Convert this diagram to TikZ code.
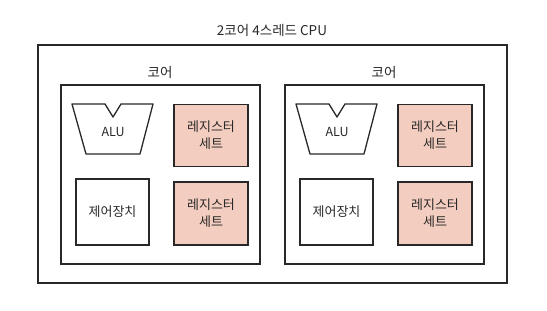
\documentclass[tikz,border=0pt]{standalone}
\usepackage{fontspec}
\setmainfont{Noto Sans CJK KR}
\usetikzlibrary{
    positioning,
    calc
}
\definecolor{InkGray}{RGB}{40,40,40}
\definecolor{RegPeach}{RGB}{243,205,191}

\begin{document}
\begin{tikzpicture}[
    x=1pt, y=-1pt,
    box/.style={draw=InkGray, line width=1.3pt, inner sep=0pt},
    regbox/.style={box, fill=RegPeach, minimum width=74pt, minimum height=62pt,
        align=center, font=\fontsize{13}{17}\selectfont, text=InkGray},
    caption/.style={font=\fontsize{13.5}{16}\selectfont, text=InkGray}
]

\useasboundingbox (0,0) rectangle (547,311);

% CPU
\node[box, minimum width=469pt, minimum height=238pt] (cpu) at (272.5,164) {};
\node[caption] (cpuname) at (272,30) {2코어 4스레드 CPU};

\foreach \dx/\nm in {0/L, 224/R} {
    % core
    \node[box, minimum width=199pt, minimum height=179pt] (core\nm) at (160.5+\dx,174.5) {};
    \node[caption] (corename\nm) at (160+\dx,72) {코어};

    % ALU
    \draw[InkGray, line width=1.3pt, line join=round]
        (72+\dx,104) -- (105+\dx,104) -- (113+\dx,117) -- (121+\dx,104)
        -- (153+\dx,104) -- (140+\dx,154) -- (86+\dx,154) -- cycle;
    \node[caption, font=\fontsize{12.5}{14}\selectfont] (alu\nm) at (113+\dx,132) {ALU};

    % control unit
    \node[box, minimum width=73pt, minimum height=66pt, caption, font=\fontsize{13}{16}\selectfont] (ctrl\nm) at (112.5+\dx,212) {제어장치};

    % register sets
    \node[regbox] (regA\nm) at (211+\dx,135.5) {레지스터\\세트};
    \node[regbox, minimum height=63pt] (regB\nm) at (211+\dx,213.5) {레지스터\\세트};
}

\end{tikzpicture}
\end{document}
